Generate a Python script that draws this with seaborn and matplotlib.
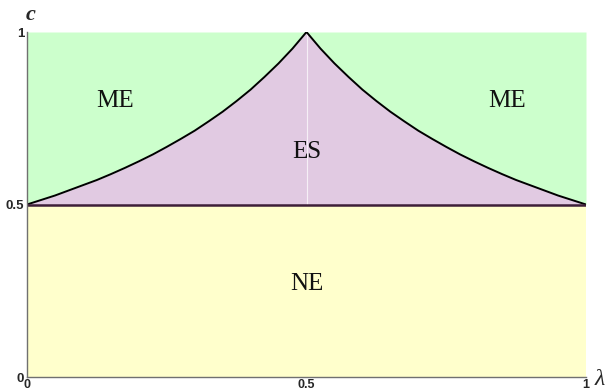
import matplotlib
matplotlib.use('Agg')
import matplotlib.pyplot as plt
import seaborn as sns
import pandas as pd

# boundary curve c(lambda), left branch
lam_left = [0.0, 0.025, 0.05, 0.075, 0.1, 0.125, 0.15, 0.175, 0.2, 0.225, 0.25,
            0.275, 0.3, 0.325, 0.35, 0.375, 0.4, 0.425, 0.45, 0.475, 0.5]
c_left = [0.500, 0.513, 0.526, 0.541, 0.556, 0.571, 0.588, 0.606, 0.625, 0.645, 0.667,
          0.690, 0.714, 0.741, 0.769, 0.800, 0.833, 0.870, 0.909, 0.952, 1.000]
# right branch (mirror image)
lam_right = [0.5, 0.525, 0.55, 0.575, 0.6, 0.625, 0.65, 0.675, 0.7, 0.725, 0.75,
             0.775, 0.8, 0.825, 0.85, 0.875, 0.9, 0.925, 0.95, 0.975, 1.0]
c_right = [1.000, 0.952, 0.909, 0.870, 0.833, 0.800, 0.769, 0.741, 0.714, 0.690, 0.667,
           0.645, 0.625, 0.606, 0.588, 0.571, 0.556, 0.541, 0.526, 0.513, 0.500]

c_split = 0.5   # NE / ES boundary
region_names = ['ME', 'ME', 'ES', 'NE']
region_lam = [0.157, 0.858, 0.50, 0.50]
region_c = [0.80, 0.80, 0.652, 0.271]

tick_vals = [0, 0.5, 1]
tick_labels = ['0', '0.5', '1']

green = '#CCFFCC'
purple = '#E1CAE2'
yellow = '#FFFFCC'

sns.set_style('white')
plt.rcParams['font.family'] = ['Liberation Sans', 'DejaVu Sans']

fig = plt.figure(figsize=(6.05, 3.92), dpi=100)
ax = fig.add_axes([27 / 605, 15 / 392, 559 / 605, 345 / 392])

lam_all = lam_left + lam_right[1:]
c_all = c_left + c_right[1:]

# regions
ax.fill_between([0, 1], [0, 0], [c_split, c_split], color=yellow, lw=0)
ax.fill_between(lam_all, [c_split] * len(lam_all), c_all, color=purple, lw=0)
ax.fill_between(lam_all, c_all, [1] * len(lam_all), color=green, lw=0)

# faint seam at the peak
ax.plot([lam_left[-1], lam_left[-1]], [c_split, c_left[-1]], color='white', lw=0.8, alpha=0.7)

curve = pd.DataFrame({'lam': lam_all, 'c': c_all})
sns.lineplot(data=curve, x='lam', y='c', color='black', lw=1.4, ax=ax, sort=False)
ax.plot([0, 1], [c_split, c_split], color='#3d1e38', lw=1.8)

for name, lx, cy in zip(region_names, region_lam, region_c):
    ax.text(lx, cy, name, ha='center', va='center', fontsize=18,
            family='Liberation Serif', color='#111111')

ax.set_xlim(0, 1)
ax.set_ylim(0, 1)
ax.set_xticks(tick_vals)
ax.set_xticklabels(tick_labels, fontweight='bold', fontsize=9)
ax.set_yticks(tick_vals)
ax.set_yticklabels(tick_labels, fontweight='bold', fontsize=9.5)
ax.tick_params(axis='both', direction='in', length=2, width=0.8, color='#707070')
ax.tick_params(axis='x', pad=1.5)
ax.tick_params(axis='y', pad=2)
ax.set_xlabel('')
ax.set_ylabel('')

for side in ['top', 'right']:
    ax.spines[side].set_visible(False)
for side in ['left', 'bottom']:
    ax.spines[side].set_color('#707070')
    ax.spines[side].set_linewidth(1.0)

ax.text(0.006, 1.05, 'c', transform=ax.transAxes, fontsize=16, style='italic',
        fontweight='bold', family='Liberation Serif', ha='center', va='center',
        clip_on=False)
ax.text(1.024, -0.008, 'λ', transform=ax.transAxes, fontsize=17, style='italic',
        family='Liberation Serif', ha='center', va='center', clip_on=False)

fig.savefig('out.png', dpi=100)
plt.close()
